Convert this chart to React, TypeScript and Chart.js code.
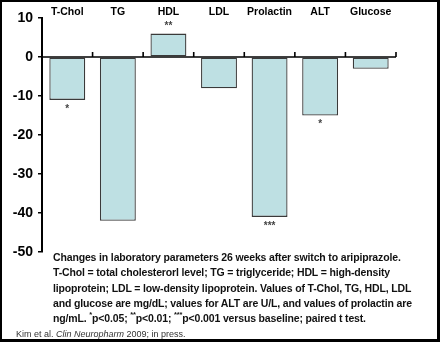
import React, { useEffect, useRef } from 'react';
import { Chart, registerables } from 'chart.js';

Chart.register(...registerables);

const categories = ['T-Chol', 'TG', 'HDL', 'LDL', 'Prolactin', 'ALT', 'Glucose'];
const changes = [-11, -42, 6, -8, -41, -15, -3];
const significance = ['*', '', '**', '', '***', '*', ''];
const yMin = -50;
const yMax = 10;
const yStep = 10;

const captionLines = [
  'Changes in laboratory parameters 26 weeks after switch to aripiprazole.',
  'T-Chol = total cholesterorl level; TG = triglyceride; HDL = high-density',
  'lipoprotein; LDL = low-density lipoprotein. Values of T-Chol, TG, HDL, LDL',
  'and glucose are mg/dL; values for ALT are U/L, and values of prolactin are',
];

const FONT = 'Arial, "Liberation Sans", sans-serif';

const overlayPlugin = {
  id: 'overlayPlugin',
  afterDatasetsDraw(chart: any) {
    const { ctx, chartArea, scales } = chart;
    const x = scales.x;
    const y = scales.y;
    const y0 = y.getPixelForValue(0);
    const n = categories.length;
    ctx.save();
    ctx.strokeStyle = '#000';
    ctx.lineWidth = 1.6;
    ctx.beginPath();
    ctx.moveTo(chartArea.left, y0);
    ctx.lineTo(chartArea.right, y0);
    const w = x.getPixelForValue(1) - x.getPixelForValue(0);
    for (let i = 0; i < n; i++) {
      const bx = x.getPixelForValue(i) + w / 2;
      ctx.moveTo(bx, y0);
      ctx.lineTo(bx, y0 - 5);
    }
    ctx.stroke();

    const meta = chart.getDatasetMeta(0);
    ctx.fillStyle = '#444';
    ctx.font = `bold 10px ${FONT}`;
    ctx.textAlign = 'center';
    meta.data.forEach((bar: any, i: number) => {
      const s = significance[i];
      if (!s) return;
      const v = changes[i];
      if (v < 0) {
        ctx.textBaseline = 'top';
        ctx.fillText(s, bar.x, bar.y + 4);
      } else {
        ctx.textBaseline = 'bottom';
        ctx.fillText(s, bar.x, bar.y - 2);
      }
    });
    ctx.restore();
  },
};

const supStyle: React.CSSProperties = { fontSize: 7.5, verticalAlign: 'top', lineHeight: '8px' };

export default function App() {
  const canvasRef = useRef<HTMLCanvasElement>(null);

  useEffect(() => {
    document.body.style.margin = '0';
    const canvas = canvasRef.current;
    if (!canvas) return;
    const chart = new Chart(canvas, {
      type: 'bar',
      data: {
        labels: categories,
        datasets: [
          {
            data: changes,
            backgroundColor: '#bee0e3',
            borderColor: '#3a3a3a',
            borderWidth: 1.3,
            borderSkipped: false,
            categoryPercentage: 1,
            barPercentage: 0.71,
          },
        ],
      },
      options: {
        responsive: false,
        animation: false,
        layout: { padding: { top: 0, left: 0, right: 44, bottom: 90 } },
        plugins: {
          legend: { display: false },
          tooltip: { enabled: false },
        },
        scales: {
          x: {
            position: 'top',
            grid: { display: false, drawTicks: false },
            border: { display: false },
            ticks: {
              color: '#000',
              font: { family: FONT, size: 10.5, weight: 'bold' },
              padding: 0,
              maxRotation: 0,
            },
            afterFit(scale: any) {
              scale.height = 18;
            },
          },
          y: {
            min: yMin,
            max: yMax,
            grid: {
              drawOnChartArea: false,
              drawTicks: true,
              tickLength: 4,
              color: '#000',
              lineWidth: 1.5,
            },
            border: { display: true, color: '#000', width: 2 },
            ticks: {
              stepSize: yStep,
              color: '#000',
              font: { family: FONT, size: 14, weight: 'bold' },
              padding: 5,
            },
            afterFit(scale: any) {
              scale.width = 42;
            },
          },
        },
      },
      plugins: [overlayPlugin],
    });
    return () => chart.destroy();
  }, []);

  return (
    <div style={{ position: 'fixed', left: 0, top: 0, width: 440, height: 342, background: '#fff', overflow: 'hidden' }}>
      <canvas ref={canvasRef} width={440} height={342} style={{ position: 'absolute', left: 0, top: 0, width: 440, height: 342 }} />
      <div
        style={{
          position: 'absolute',
          left: 53,
          top: 250,
          fontFamily: FONT,
          fontWeight: 'bold',
          fontSize: 10.5,
          letterSpacing: '-0.15px',
          lineHeight: '15.3px',
          color: '#111',
          whiteSpace: 'pre',
        }}
      >
        {captionLines.map((l, i) => (
          <div key={i}>{l}</div>
        ))}
        <div>
          ng/mL. <sup style={supStyle}>*</sup>p&lt;0.05; <sup style={supStyle}>**</sup>p&lt;0.01;{' '}
          <sup style={supStyle}>***</sup>p&lt;0.001 versus baseline; paired t test.
        </div>
      </div>
      <div
        style={{
          position: 'absolute',
          left: 16,
          top: 329,
          fontFamily: FONT,
          fontSize: 9,
          lineHeight: '11px',
          color: '#333',
          whiteSpace: 'pre',
        }}
      >
        Kim et al. <i>Clin Neuropharm</i> 2009; in press.
      </div>
      <div
        style={{
          position: 'absolute',
          left: 0,
          top: 0,
          width: 440,
          height: 342,
          boxSizing: 'border-box',
          borderTop: '2px solid #000',
          borderLeft: '2px solid #000',
          borderRight: '3px solid #000',
          borderBottom: '3px solid #000',
          pointerEvents: 'none',
        }}
      />
    </div>
  );
}
